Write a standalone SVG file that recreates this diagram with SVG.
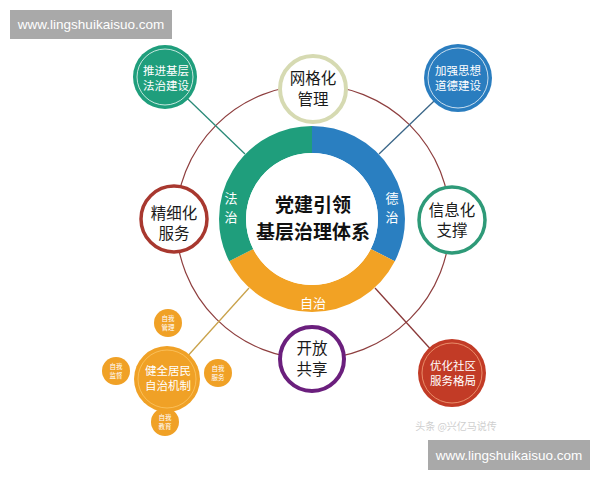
<svg xmlns="http://www.w3.org/2000/svg" width="600" height="480" viewBox="0 0 600 480">
<style>
.cjk{font-family:"Noto Sans CJK SC","Noto Sans",sans-serif;text-anchor:middle}
.wt{fill:#ffffff;font-size:11.5px}
.bk{fill:#1a1a1a;font-size:15.5px}
.rl{fill:#ffffff;font-size:13px}
.sm{fill:#ffffff;font-size:6.5px}
.ctr{fill:#111111;font-size:19px;font-weight:bold}
.wm{font-family:"Liberation Sans",Arial,sans-serif;fill:#ffffff;font-size:13.5px;text-anchor:middle}
.inner{fill:none;stroke:#ffffff;stroke-opacity:0.75;stroke-width:1}
.seg{fill:none;stroke-width:27}
</style>
<rect width="600" height="480" fill="#ffffff"/>

<g id="connectors">
  <circle cx="313" cy="222" r="137" fill="none" stroke="#8e3f3f" stroke-width="1.2"/>
  <line x1="165" y1="77" x2="245" y2="154" stroke="#2a8a78" stroke-width="1.3"/>
  <line x1="458" y1="78" x2="379" y2="154" stroke="#3a6688" stroke-width="1.3"/>
  <line x1="454" y1="375" x2="375" y2="288" stroke="#8a3838" stroke-width="1.3"/>
  <line x1="167" y1="379" x2="249" y2="288" stroke="#c9a24a" stroke-width="1.3"/>
</g>

<g id="core">
  <path class="seg" stroke="#2a7fc1" d="M312 139.5 A79.5 79.5 0 0 1 382.8 255.1"/>
  <path class="seg" stroke="#f2a224" d="M382.8 255.1 A79.5 79.5 0 0 1 241.2 255.1"/>
  <path class="seg" stroke="#1f9e7c" d="M241.2 255.1 A79.5 79.5 0 0 1 312 139.5"/>
  <circle cx="312" cy="219" r="66" fill="#ffffff"/>
  <text class="cjk ctr" x="313" y="212">党建引领</text>
  <text class="cjk ctr" x="313" y="239">基层治理体系</text>
  <text class="cjk rl" x="231" y="203">法</text>
  <text class="cjk rl" x="231" y="222">治</text>
  <text class="cjk rl" x="392" y="203">德</text>
  <text class="cjk rl" x="392" y="222">治</text>
  <text class="cjk rl" x="313" y="308">自治</text>
</g>

<g id="node-fazhi">
  <circle cx="165" cy="77" r="32" fill="#1f9e7c"/>
  <circle class="inner" cx="165" cy="77" r="28"/>
  <text class="cjk wt" x="166" y="75">推进基层</text>
  <text class="cjk wt" x="166" y="89.5">法治建设</text>
</g>

<g id="node-wangge">
  <circle cx="313" cy="89" r="33" fill="#ffffff" stroke="#d6dab2" stroke-width="4"/>
  <text class="cjk bk" x="313" y="84">网格化</text>
  <text class="cjk bk" x="313" y="104.5">管理</text>
</g>

<g id="node-daode">
  <circle cx="458" cy="78" r="34" fill="#2a7dbf"/>
  <circle class="inner" cx="458" cy="78" r="30"/>
  <text class="cjk wt" x="458" y="75">加强思想</text>
  <text class="cjk wt" x="458" y="89.5">道德建设</text>
</g>

<g id="node-jingxi">
  <circle cx="174" cy="219" r="33" fill="#ffffff" stroke="#a8382f" stroke-width="3.5"/>
  <text class="cjk bk" x="174" y="218.5">精细化</text>
  <text class="cjk bk" x="174" y="239">服务</text>
</g>

<g id="node-xinxi">
  <circle cx="452" cy="220" r="33" fill="#ffffff" stroke="#2e9a78" stroke-width="3.5"/>
  <text class="cjk bk" x="452" y="215.5">信息化</text>
  <text class="cjk bk" x="452" y="236">支撑</text>
</g>

<g id="node-kaifang">
  <circle cx="312" cy="359" r="32" fill="#ffffff" stroke="#6b1f7d" stroke-width="4"/>
  <text class="cjk bk" x="312" y="354">开放</text>
  <text class="cjk bk" x="312" y="374.5">共享</text>
</g>

<g id="node-youhua">
  <circle cx="452" cy="373" r="34" fill="#c23b26"/>
  <circle class="inner" cx="452" cy="373" r="30" style="stroke:#f6a880"/>
  <text class="cjk wt" x="453" y="370">优化社区</text>
  <text class="cjk wt" x="453" y="384.5">服务格局</text>
</g>

<g id="node-zizhi">
  <circle cx="168" cy="323" r="14" fill="#f0a126"/>
  <text class="cjk sm" x="168" y="321">自我</text>
  <text class="cjk sm" x="168" y="329.5">管理</text>
  <circle cx="116" cy="371" r="14" fill="#f0a126"/>
  <text class="cjk sm" x="116" y="369">自我</text>
  <text class="cjk sm" x="116" y="377.5">监督</text>
  <circle cx="218" cy="373" r="14" fill="#f0a126"/>
  <text class="cjk sm" x="218" y="371">自我</text>
  <text class="cjk sm" x="218" y="379.5">服务</text>
  <circle cx="165" cy="422" r="14" fill="#f0a126"/>
  <text class="cjk sm" x="165" y="420">自我</text>
  <text class="cjk sm" x="165" y="428.5">教育</text>
  <circle cx="167" cy="379" r="33" fill="#f0a126"/>
  <circle cx="167" cy="379" r="29" fill="none" stroke="#ffd27a" stroke-opacity="0.6" stroke-width="1"/>
  <text class="cjk wt" x="168" y="375">健全居民</text>
  <text class="cjk wt" x="168" y="389.5">自治机制</text>
</g>

<g id="watermarks">
  <rect x="10" y="10" width="162" height="29" fill="#a9a9a9"/>
  <text class="wm" x="91" y="29">www.lingshuikaisuo.com</text>
  <rect x="428" y="440" width="162" height="30" fill="#a9a9a9"/>
  <text class="wm" x="509" y="460">www.lingshuikaisuo.com</text>
  <text x="456" y="430" font-family="Noto Sans CJK SC,sans-serif" font-size="10" fill="#cfcfcf" text-anchor="middle">头条 @兴亿马说传</text>
</g>
</svg>
